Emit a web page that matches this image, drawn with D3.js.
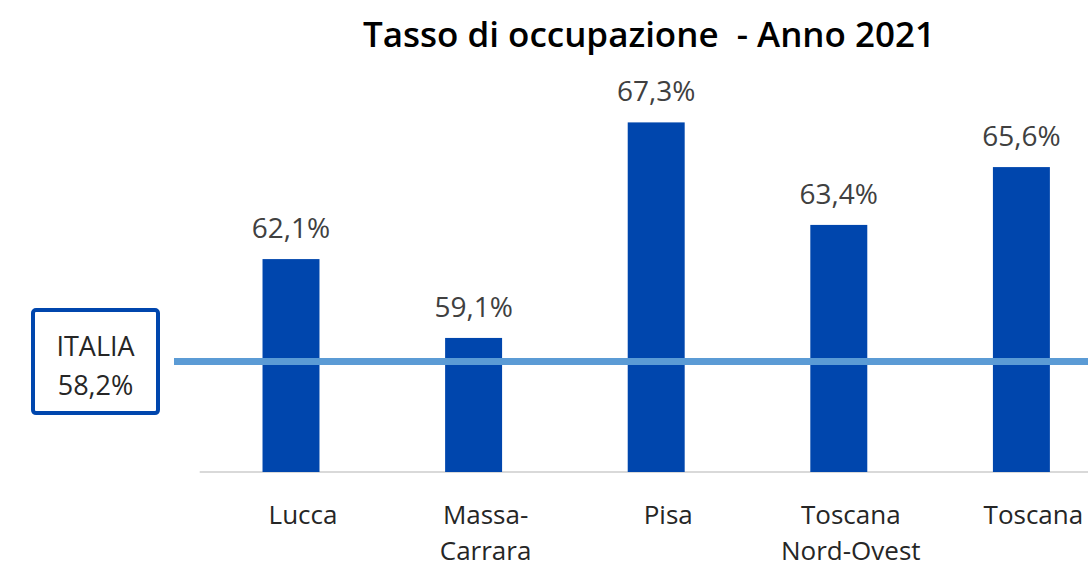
<!DOCTYPE html>
<html>
<head>
<meta charset="utf-8">
<script src="https://cdn.jsdelivr.net/npm/d3@7"></script>
<style>
  body { margin: 0; background: #fff; }
  text { font-family: "Open Sans", "Noto Sans", sans-serif; }
</style>
</head>
<body>
<svg id="chart" width="1088" height="568"></svg>
<script>
const title = "Tasso di occupazione  - Anno 2021";
const categories = [["Lucca"], ["Massa-", "Carrara"], ["Pisa"], ["Toscana", "Nord-Ovest"], ["Toscana"]];
const values = [62.1, 59.1, 67.3, 63.4, 65.6];
const italiaLabel = "ITALIA";
const italiaValue = 58.2;

const fmt = v => d3.format(".1f")(v).replace(".", ",") + "%";

const svg = d3.select("#chart");
const barColor = "#0046ad";
const lineColor = "#5b9bd5";

let x = d3.scaleBand()
  .domain(d3.range(values.length))
  .range([199.7, 1112.7])
  .paddingInner(0.688)
  .paddingOuter(0.344);

let y = d3.scaleLinear()
  .domain([54, 68])
  .range([472, 104]);

// title, sized to fit the width it takes in the source
let t = svg.append("text")
  .attr("x", 649)
  .attr("y", 47)
  .attr("text-anchor", "middle")
  .attr("font-weight", 600)
  .attr("font-size", 30)
  .attr("fill", "#000")
  .style("white-space", "pre")
  .text(title);
let tw = t.node().getComputedTextLength();
t.attr("font-size", 30 * 572 / tw);

// baseline
svg.append("line")
  .attr("x1", x.range()[0])
  .attr("x2", 1088)
  .attr("y1", y(54))
  .attr("y2", y(54))
  .attr("stroke", "#d9d9d9")
  .attr("stroke-width", 2);

svg.append("g")
  .selectAll("rect")
  .data(values)
  .join("rect")
  .attr("x", (d, i) => x(i))
  .attr("y", d => y(d))
  .attr("width", x.bandwidth())
  .attr("height", d => y(54) - y(d))
  .attr("fill", barColor);

// italia reference line
let yI = y(italiaValue);
svg.append("line")
  .attr("x1", 174)
  .attr("x2", 1088)
  .attr("y1", yI)
  .attr("y2", yI)
  .attr("stroke", lineColor)
  .attr("stroke-width", 7);

// value labels
svg.append("g")
  .selectAll("text")
  .data(values)
  .join("text")
  .attr("x", (d, i) => x(i) + x.bandwidth() / 2)
  .attr("y", d => y(d) - 21)
  .attr("text-anchor", "middle")
  .attr("font-size", 28)
  .attr("fill", "#404040")
  .text(d => fmt(d));

// category labels
let cat = svg.append("g")
  .selectAll("text")
  .data(categories)
  .join("text")
  .attr("text-anchor", "middle")
  .attr("font-size", 26)
  .attr("fill", "#262626");
cat.each(function(lines, i) {
  let cx = x(i) + x.bandwidth() / 2 + 12;
  d3.select(this).selectAll("tspan")
    .data(lines)
    .join("tspan")
    .attr("x", cx)
    .attr("y", (d, j) => 524 + j * 36)
    .text(d => d);
});

// italia box
let bx = 33, bw = 125, bh = 103;
svg.append("rect")
  .attr("x", bx)
  .attr("y", yI - bh / 2)
  .attr("width", bw)
  .attr("height", bh)
  .attr("rx", 3)
  .attr("fill", "#fff")
  .attr("stroke", barColor)
  .attr("stroke-width", 4);
svg.append("text")
  .attr("x", bx + bw / 2)
  .attr("y", yI - 6)
  .attr("text-anchor", "middle")
  .attr("font-size", 27)
  .attr("fill", "#262626")
  .text(italiaLabel);
svg.append("text")
  .attr("x", bx + bw / 2)
  .attr("y", yI + 33)
  .attr("text-anchor", "middle")
  .attr("font-size", 27)
  .attr("fill", "#262626")
  .text(fmt(italiaValue));
</script>
</body>
</html>
